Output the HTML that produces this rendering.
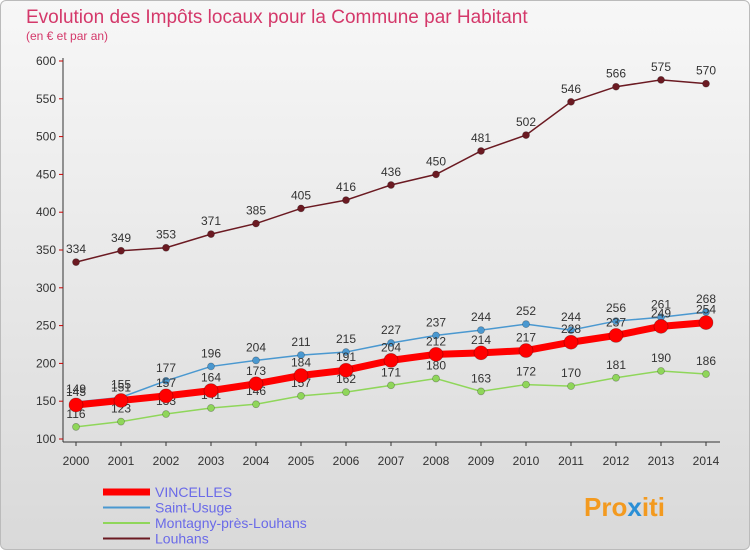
<!DOCTYPE html>
<html><head><meta charset="utf-8"><style>
body{margin:0;width:750px;height:550px;overflow:hidden;font-family:"Liberation Sans",sans-serif}
#wrap{position:absolute;left:0;top:0;width:748px;height:548px;border:1px solid #bbb;border-radius:6px;background:linear-gradient(#f7f7f7,#d9d9d9)}
</style></head><body>
<div id="wrap"></div>
<svg id="c" width="750" height="550" style="position:absolute;left:0;top:0">
<text x="26" y="23" font-size="19" fill="#d4386a">Evolution des Impôts locaux pour la Commune par Habitant</text>
<text x="26" y="40" font-size="12" fill="#d4386a">(en € et par an)</text>
<text x="584" y="516" font-size="26" font-weight="bold" fill="#f39a1f">Pro<tspan fill="#2a8fd6">x</tspan>iti</text>
</svg>
<script>
const years=[2000,2001,2002,2003,2004,2005,2006,2007,2008,2009,2010,2011,2012,2013,2014];
const yTicks=[100,150,200,250,300,350,400,450,500,550,600];
const vincelles=[145,151,157,164,173,184,191,204,212,214,217,228,237,249,254];
const saintUsuge=[149,155,177,196,204,211,215,227,237,244,252,244,256,261,268];
const montagny=[116,123,133,141,146,157,162,171,180,163,172,170,181,190,186];
const louhans=[334,349,353,371,385,405,416,436,450,481,502,546,566,575,570];
const svg=document.getElementById('c');const NS='http://www.w3.org/2000/svg';
const X=i=>76+i*45, Y=v=>439-(v-100)*0.756;
function mk(t,a,p){const e=document.createElementNS(NS,t);for(const k in a)e.setAttribute(k,a[k]);(p||svg).appendChild(e);return e;}
let e;
e=mk('line',{x1:63,y1:58,x2:63,y2:442,stroke:'#333'});


e=mk('line',{x1:63,y1:442,x2:720,y2:442,stroke:'#333'});


yTicks.forEach(v=>{mk('line',{x1:59,y1:Y(v),x2:63,y2:Y(v),stroke:'#c00'});
e=mk('text',{x:56,y:Y(v)+4,'text-anchor':'end','font-size':12,fill:'#333'});e.textContent=v;

});
years.forEach((y,i)=>{mk('line',{x1:X(i),y1:442,x2:X(i),y2:446,stroke:'#333'});
e=mk('text',{x:X(i),y:465,'text-anchor':'middle','font-size':12,fill:'#333'});e.textContent=y;

});
const series=[[louhans,'#6b1a22',1.5,3.5,'louhans'],[montagny,'#8fd65a',1.5,3.5,'montagny'],[saintUsuge,'#4a98d0',1.5,3.5,'saint-usuge'],[vincelles,'#f00',7,7,'vincelles']];
series.forEach(([d,c,w,r,n])=>{const g=mk('g',{});


mk('polyline',{points:d.map((v,i)=>X(i)+','+Y(v)).join(' '),fill:'none',stroke:c,'stroke-width':w},g);
d.forEach((v,i)=>{const p=mk('circle',{cx:X(i),cy:Y(v),r:r,fill:c,stroke:'rgba(0,0,0,0.3)','stroke-width':0.7},g);


const t=mk('text',{x:X(i),y:Y(v)-9,'text-anchor':'middle','font-size':12,fill:'#333'},g);t.textContent=v;

});});
const leg=[['VINCELLES','#f00',7],['Saint-Usuge','#4a98d0',2],['Montagny-près-Louhans','#8fd65a',2],['Louhans','#6b1a22',2]];
leg.forEach(([n,c,w],i)=>{const y=492+i*15.5;const g=mk('g',{});


mk('line',{x1:103,y1:y,x2:150,y2:y,stroke:c,'stroke-width':w},g);
const t=mk('text',{x:155,y:y+5,'font-size':14,fill:'#6a6ae8'},g);t.textContent=n;});
</script>
</body></html>
